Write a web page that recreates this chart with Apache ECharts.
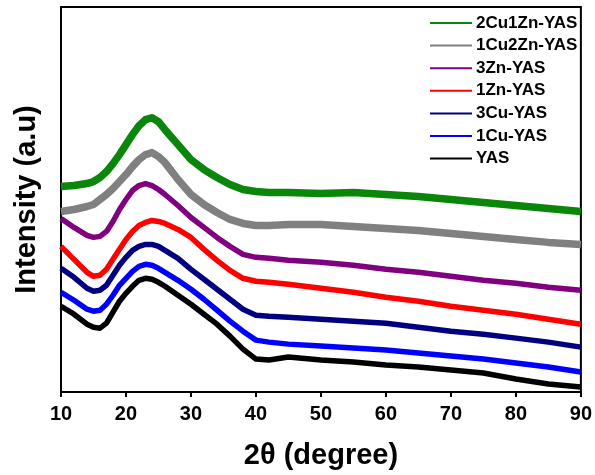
<!DOCTYPE html>
<html>
<head>
<meta charset="utf-8">
<script src="https://cdn.jsdelivr.net/npm/echarts@6/dist/echarts.min.js"></script>
<style>html,body{margin:0;padding:0;background:#fff}#c{width:595px;height:475px}</style>
</head>
<body>
<div id="c"></div>
<script>
var twoTheta = [10,12,14,15,16,17,18,19,20,21,22,23,24,25,26,28,30,32,34,36,38,40,42,45,50,55,60,65,70,75,80,85,90];
var s2Cu1Zn = [206,207,209,211,215,221,229,238,248,258,267,273,275,271,263,248,233,223,215,208,203,201,200,200,199,200,198,196,193,190,187,184,181];
var s1Cu2Zn = [181,183,186,188,193,198,204,211,218,226,233,238,240,236,230,213,198,188,180,173,169,167,167,168,168,166,164,162,159,156,153,150,148];
var s3Zn = [174,165,157,155,156,161,171,183,193,202,207,209,207,203,198,187,175,165,155,146,138,135,134,132,130,127,123,120,116,112,109,105,102];
var s1Zn = [146,133,120,116,117,123,133,143,153,161,167,170,172,171,169,163,155,143,132,122,114,111,110,108,104,100,95,91,86,82,78,73,68];
var s3Cu = [124,115,104,101,102,107,117,127,135,142,146,148,148,146,142,134,123,113,103,93,83,77,76,75,73,71,69,65,61,58,54,50,45];
var s1Cu = [100,92,83,81,82,88,97,107,114,121,126,128,127,124,120,112,103,93,82,71,61,52,50,48,46,44,42,39,36,33,29,25,20];
var sYAS = [86,78,68,65,64,69,80,91,99,106,112,114,113,110,106,97,88,78,68,56,43,33,32,35,32,30,27,25,22,19,13,8,5];
var names = ['2Cu1Zn-YAS','1Cu2Zn-YAS','3Zn-YAS','1Zn-YAS','3Cu-YAS','1Cu-YAS','YAS'];
var values = [s2Cu1Zn, s1Cu2Zn, s3Zn, s1Zn, s3Cu, s1Cu, sYAS];
var colors = ['#0a860a','#808080','#800080','#ff0000','#000080','#0000ff','#000000'];
var widths = [7.5,7.5,5.5,5.5,5.5,5.5,5.5];
var xTicks = [10,20,30,40,50,60,70,80,90];

var series = names.map(function(n, i){
  return {
    name: n, type: 'line', smooth: false, showSymbol: false, symbol: 'none',
    data: twoTheta.map(function(x, j){ return [x, values[i][j]]; }),
    lineStyle: {color: colors[i], width: widths[i], join: 'round', cap: 'butt'},
    itemStyle: {color: colors[i]},
    z: 10 - i
  };
});

var chart = echarts.init(document.getElementById('c'));
chart.setOption({
  animation: false,
  backgroundColor: '#fff',
  grid: {left: 61, right: 10, top: 7, bottom: 82, show: true, borderColor: '#000', borderWidth: 2, backgroundColor: 'transparent'},
  legend: {
    data: names, orient: 'vertical', left: 425, top: 8,
    icon: 'rect', itemWidth: 42, itemHeight: 2, itemGap: 2.6,
    textStyle: {fontFamily: 'Liberation Sans, Arial', fontWeight: 'bold', fontSize: 17, color: '#000', lineHeight: 20, padding: [0,0,0,-1]}
  },
  xAxis: {
    type: 'value', min: 10, max: 90, interval: 10,
    axisLine: {show: true, lineStyle: {color: '#000', width: 2}},
    axisTick: {show: true, length: 5, lineStyle: {color: '#000', width: 2}},
    splitLine: {show: false},
    axisLabel: {fontFamily: 'Liberation Sans, Arial', fontWeight: 'bold', fontSize: 20, color: '#000', margin: 12,
      formatter: function(v){ return xTicks.indexOf(v) >= 0 ? String(v) : ''; }},
    name: '2\u03b8 (degree)', nameLocation: 'middle', nameGap: 49,
    nameTextStyle: {fontFamily: 'Liberation Sans, Arial', fontWeight: 'bold', fontSize: 29, color: '#000'}
  },
  yAxis: {
    type: 'value', min: 0, max: 386,
    axisLine: {show: true, lineStyle: {color: '#000', width: 2}},
    axisTick: {show: false}, axisLabel: {show: false}, splitLine: {show: false},
    name: 'Intensity (a.u)', nameLocation: 'middle', nameGap: 20,
    nameTextStyle: {fontFamily: 'Liberation Sans, Arial', fontWeight: 'bold', fontSize: 29, color: '#000'}
  },
  series: series
});
</script>
</body>
</html>
